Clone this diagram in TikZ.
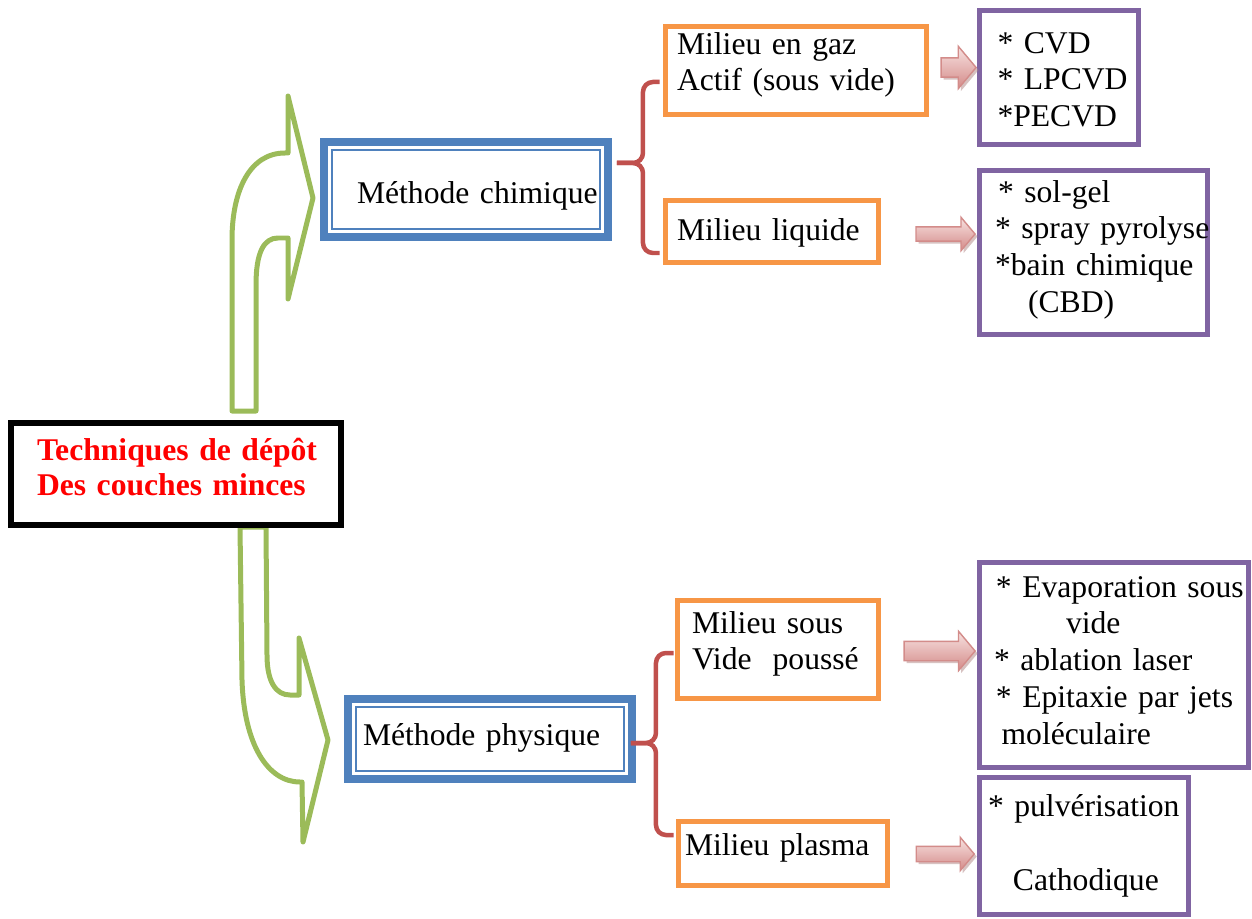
\documentclass[tikz,border=0pt]{standalone}
\usepackage{fontspec}
\setmainfont{Liberation Serif}
\usetikzlibrary{positioning,calc,shapes.arrows,shadows}

\definecolor{borange}{HTML}{F79646}
\definecolor{bpurple}{HTML}{8064A2}
\definecolor{bblue}{HTML}{4F81BD}
\definecolor{bgreen}{HTML}{9BBB59}
\definecolor{bred}{HTML}{C0504D}
\definecolor{pinkA}{HTML}{F7E2E1}
\definecolor{pinkB}{HTML}{D48A88}
\definecolor{pinkedge}{HTML}{D38C8A}
\definecolor{pinkshade}{HTML}{B08584}

\begin{document}
\begin{tikzpicture}[x=0.02cm, y=-0.02cm,
% common options for all texts:
every node/.style = {font=\fontsize{18}{21}\selectfont},
nohyph/.style = {execute at begin node={\hyphenpenalty=10000\exhyphenpenalty=10000}},
% common options for the boxes:
obox/.style = {draw=borange, line width=0.1cm, fill=white, align=left, nohyph},
pbox/.style = {draw=bpurple, line width=0.1cm, fill=white, align=left, nohyph},
bbox/.style = {draw=bblue, line width=0.16cm, fill=white, align=left, nohyph,
            path picture={\draw[bblue, line width=0.05cm]
              ([shift={(0.16cm,-0.16cm)}]path picture bounding box.north west) rectangle
              ([shift={(-0.16cm,0.16cm)}]path picture bounding box.south east);}},
tbox/.style = {draw=black, line width=0.12cm, fill=white, align=left, nohyph,
            text=red, font=\fontsize{18}{20}\selectfont\bfseries},
% common options for the arrows:
garr/.style = {draw=bgreen, line width=0.1cm, line join=round},
parr/.style = {single arrow, draw=pinkedge, line width=0.8pt, inner xsep=0,
            top color=pinkA, bottom color=pinkB, single arrow tip angle=100,
            drop shadow={shadow xshift=0.05cm, shadow yshift=-0.05cm, fill=pinkshade}},
curly/.style = {draw=bred, line width=0.09cm, rounded corners=0.2cm}]
\useasboundingbox (0,0) rectangle (1252,919);

% big green arrows
\draw[garr] (232,411) -- (232,240) .. controls (232,190) and (250,153) .. (285,153)
  -- (288,153) -- (288,96) -- (313,198) -- (288,299) -- (288,238) -- (278,238)
  .. controls (264,238) and (256,252) .. (256,285) -- (256,411) -- cycle;
\draw[garr] (240,527) -- (242,680) .. controls (244,745) and (268,782) .. (300,782)
  -- (302,782) -- (303,842) -- (328,740) -- (299,638) -- (299,695) -- (290,695)
  .. controls (276,695) and (267,682) .. (267,655) -- (266,527) -- cycle;

\node[tbox, text width=5.56cm, inner xsep=0.52cm, minimum height=2.04cm, text height=0pt, text depth=0.56cm] (tech) at (176,474) {Techniques~de~dépôt\\Des~couches~minces};

\node[bbox, text width=4.36cm, inner xsep=0.66cm, minimum height=1.9cm, text height=0.58cm, text depth=0pt] (chim) at (466,189.5) {Méthode~chimique};
\node[bbox, text width=5.08cm, inner xsep=0.3cm, minimum height=1.6cm, text height=0.24cm, text depth=0pt] (phys) at (490,739) {Méthode physique};

\node[obox, text width=4.76cm, inner xsep=0.23cm, minimum height=1.76cm, text height=0pt, text depth=0.66cm] (gaz) at (796,70.5) {Milieu en gaz\\Actif (sous vide)};
\node[obox, text width=3.8cm, inner xsep=0.23cm, minimum height=1.24cm, text height=0.38cm, text depth=0pt] (liq) at (772,231.5) {Milieu liquide};
\node[obox, text width=3.44cm, inner xsep=0.29cm, minimum height=1.96cm, text height=0pt, text depth=0.66cm] (vide) at (778,649.5) {Milieu sous\\Vide~~poussé};
\node[obox, text width=3.92cm, inner xsep=0.13cm, minimum height=1.28cm, text height=0.06cm, text depth=0pt] (plasma) at (783,853.5) {Milieu plasma};

\node[pbox, text width=2.46cm, inner xsep=0.36cm, minimum height=2.68cm, text height=0pt, text depth=0.98cm] (cvd) at (1059,77.5) {{*}~CVD\\{*}~LPCVD\\{*}PECVD};
\node[pbox, text width=3.94cm, inner xsep=0.31cm, minimum height=3.28cm, text height=0pt, text depth=2.02cm] (solgel) at (1093.5,252.5) {\hspace*{1.7pt}{*}~sol-gel\\{*}~spray~pyrolyse\\{*}bain~chimique\\\hspace*{18.8pt}(CBD)};
\node[pbox, text width=4.8cm, inner xsep=0.29cm, minimum height=4.1cm, text height=0pt, text depth=2.72cm] (evap) at (1114,665) {\hspace*{1.1pt}{*}~Evaporation~sous\\\hspace*{41pt}vide\\{*}~ablation~laser\\\hspace*{1.1pt}{*}~Epitaxie~par~jets\\\hspace*{4.3pt}moléculaire};
\node[pbox, text width=3.84cm, inner xsep=0.17cm, minimum height=2.74cm, text height=0pt, text depth=1.18cm] (pulv) at (1084,846) {{*}~pulvérisation\\[21pt]\hspace*{14.2pt}Cathodique};

% small pink arrows
\node[parr, minimum height=0.7cm, inner ysep=0.18cm, single arrow head extend=0.23cm] (ar1) at (954.5,67.5) {};
\node[parr, minimum height=1.18cm, inner ysep=0.13cm, single arrow head extend=0.19cm] (ar2) at (942.5,234) {};
\node[parr, minimum height=1.42cm, inner ysep=0.18cm, single arrow head extend=0.2cm] (ar3) at (935.5,651) {};
\node[parr, minimum height=1.16cm, inner ysep=0.14cm, single arrow head extend=0.18cm] (ar4) at (942,854) {};

% braces
\coordinate (tA) at ($(chim.east)+(5,-26.5)$);
\draw[curly] (tA) -- ++(26,0) |- ($(gaz.west)+(-3.5,11.5)$);
\draw[curly] (tA) -- ++(26,0) |- ($(liq.west)+(-3.5,21.5)$);
\coordinate (tB) at ($(phys.east)+(-5,4)$);
\draw[curly] (tB) -- ++(25,0) |- ($(vide.west)+(-1.5,3.5)$);
\draw[curly] (tB) -- ++(25,0) |- ($(plasma.west)+(-2.5,-18.5)$);
\end{tikzpicture}
\end{document}
